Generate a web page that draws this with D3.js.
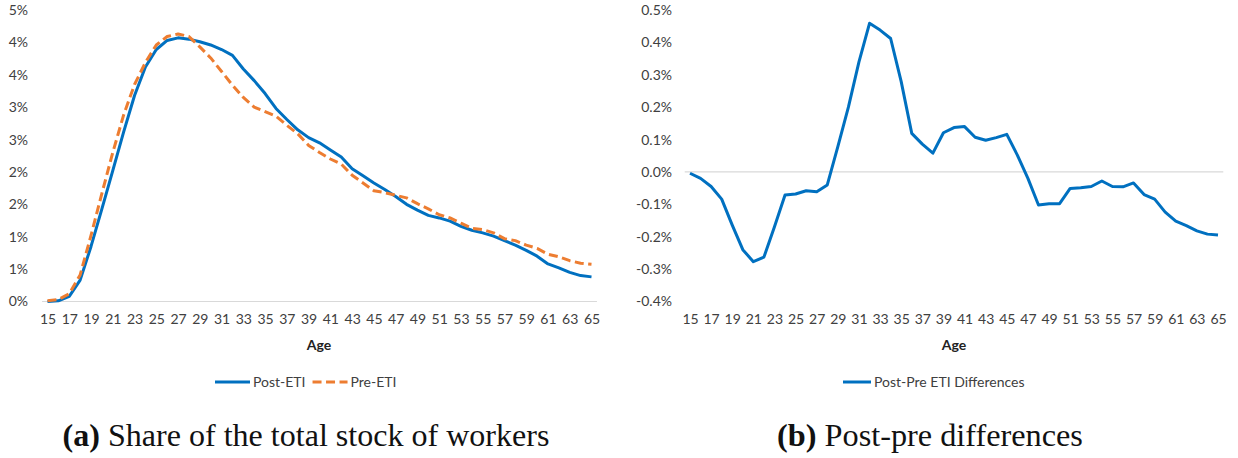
<!DOCTYPE html>
<html>
<head>
<meta charset="utf-8">
<script src="https://cdn.jsdelivr.net/npm/d3@7"></script>
<style>
  html, body { margin: 0; padding: 0; background: #ffffff; }
  svg { display: block; }
  .tick text { font-family: Lato, "Open Sans", sans-serif; font-size: 14px; fill: #404040; }
</style>
</head>
<body>
<svg id="chart" width="1238" height="458"></svg>
<script>
// Ages 15..65
const ages = d3.range(15, 66);
const ageTicks = d3.range(15, 66, 2);

// Share of the total stock of workers by age (%)
const postETI = [
  0.00, 0.01, 0.08, 0.33, 0.85, 1.43, 2.02, 2.62, 3.18, 3.62,
  3.89, 4.03, 4.07, 4.05, 4.01, 3.96, 3.89, 3.80, 3.59, 3.41,
  3.21, 2.98, 2.81, 2.65, 2.53, 2.45, 2.34, 2.23, 2.05, 1.94,
  1.83, 1.73, 1.62, 1.50, 1.41, 1.33, 1.29, 1.24, 1.16, 1.10,
  1.06, 1.01, 0.94, 0.87, 0.79, 0.70, 0.58, 0.52, 0.45, 0.40,
  0.38
];
const preETI = [
  0.01, 0.03, 0.12, 0.41, 1.02, 1.67, 2.30, 2.88, 3.35, 3.69,
  3.96, 4.09, 4.13, 4.09, 3.93, 3.76, 3.55, 3.34, 3.15, 3.00,
  2.93, 2.86, 2.72, 2.59, 2.41, 2.30, 2.20, 2.12, 1.95, 1.83,
  1.71, 1.68, 1.64, 1.60, 1.51, 1.43, 1.34, 1.29, 1.21, 1.13,
  1.11, 1.06, 0.97, 0.94, 0.87, 0.82, 0.73, 0.69, 0.63, 0.59,
  0.575
];
// Post minus pre (%)
const diffETI = [
  -0.004, -0.020, -0.045, -0.084, -0.164, -0.240, -0.277, -0.263, -0.169, -0.071,
  -0.068, -0.058, -0.061, -0.040, 0.078, 0.200, 0.340, 0.459, 0.438, 0.412,
  0.279, 0.119, 0.086, 0.058, 0.121, 0.137, 0.140, 0.107, 0.098, 0.106,
  0.116, 0.052, -0.020, -0.102, -0.098, -0.098, -0.051, -0.049, -0.045, -0.028,
  -0.045, -0.046, -0.034, -0.070, -0.084, -0.124, -0.152, -0.166, -0.182, -0.192,
  -0.195
];

// Value-axis ticks and their labels (labels rounded to whole/one-decimal percent)
const shareTicks = [0, 0.5, 1, 1.5, 2, 2.5, 3, 3.5, 4, 4.5];
const shareTickLabels = ["0%", "1%", "1%", "2%", "2%", "3%", "3%", "4%", "4%", "5%"];
const diffTicks = [-0.4, -0.3, -0.2, -0.1, 0, 0.1, 0.2, 0.3, 0.4, 0.5];
const diffTickLabels = ["-0.4%", "-0.3%", "-0.2%", "-0.1%", "0.0%", "0.1%", "0.2%", "0.3%", "0.4%", "0.5%"];

const seriesA = [
  { name: "Post-ETI", values: postETI, color: "#0070C0", dash: null },
  { name: "Pre-ETI", values: preETI, color: "#ED7D31", dash: "9,4.5" }
];
const seriesB = [
  { name: "Post-Pre ETI Differences", values: diffETI, color: "#0070C0", dash: null }
];

const captionA = { label: "(a)", text: " Share of the total stock of workers" };
const captionB = { label: "(b)", text: " Post-pre differences" };

const svg = d3.select("#chart");
const FONT = "Lato, 'Open Sans', sans-serif";

function drawPanel(opts) {
  const g = svg.append("g");
  const step = (opts.xRange[1] - opts.xRange[0]) / (ages.length - 1);
  const x = d3.scaleLinear().domain([ages[0], ages[ages.length - 1]]).range(opts.xRange);
  const y = d3.scaleLinear().domain(opts.yDomain).range(opts.yRange);

  // zero baseline
  g.append("line")
    .attr("x1", opts.xRange[0] - step / 2).attr("x2", opts.xRange[1] + step / 2)
    .attr("y1", y(0)).attr("y2", y(0))
    .attr("stroke", "#D9D9D9").attr("stroke-width", 1.2);

  // value axis
  const yAxis = d3.axisLeft(y)
    .tickValues(opts.yTicks)
    .tickSize(0)
    .tickPadding(0)
    .tickFormat((d, i) => opts.yLabels[i]);
  g.append("g")
    .attr("transform", `translate(${opts.yLabelRight},0)`)
    .call(yAxis)
    .call(s => s.select(".domain").remove());

  // category axis
  const xAxis = d3.axisBottom(x)
    .tickValues(ageTicks)
    .tickSize(0)
    .tickPadding(0)
    .tickFormat(d3.format("d"));
  g.append("g")
    .attr("transform", `translate(0,${opts.xLabelTop})`)
    .call(xAxis)
    .call(s => s.select(".domain").remove());

  // axis title
  g.append("text")
    .attr("x", opts.titleX).attr("y", 350)
    .attr("text-anchor", "middle")
    .attr("font-family", FONT).attr("font-size", 14).attr("font-weight", 700)
    .attr("fill", "#222")
    .text("Age");

  // series lines
  const line = d3.line().x((d, i) => x(ages[i])).y(d => y(d));
  opts.series.forEach(s => {
    g.append("path")
      .datum(s.values)
      .attr("d", line)
      .attr("fill", "none")
      .attr("stroke", s.color)
      .attr("stroke-width", 3)
      .attr("stroke-linejoin", "round")
      .attr("stroke-dasharray", s.dash);
  });

  // legend
  let lx = opts.legendX;
  opts.series.forEach((s, i) => {
    if (i > 0) lx += 7;
    g.append("line")
      .attr("x1", lx).attr("x2", lx + opts.legendLine)
      .attr("y1", 382).attr("y2", 382)
      .attr("stroke", s.color).attr("stroke-width", 3)
      .attr("stroke-dasharray", s.dash);
    const t = g.append("text")
      .attr("x", lx + opts.legendLine + 3).attr("y", 387)
      .attr("font-family", FONT).attr("font-size", 14)
      .attr("fill", "#404040")
      .text(s.name);
    lx += opts.legendLine + 3 + t.node().getComputedTextLength();
  });

  // caption below the panel
  const cap = svg.append("text")
    .attr("y", 446)
    .attr("font-family", "'Liberation Serif', 'DejaVu Serif', serif")
    .attr("font-size", 24)
    .attr("fill", "#111");
  cap.append("tspan").attr("font-weight", 700).text(opts.caption.label);
  cap.append("tspan").text(opts.caption.text);
  const w = cap.node().getComputedTextLength();
  const fs = 24 * opts.captionWidth / w;
  cap.attr("font-size", fs);
  const w2 = cap.node().getComputedTextLength();
  cap.attr("x", opts.captionCenter - w2 / 2);
}

drawPanel({
  xRange: [47.5, 591.5],
  yDomain: [0, 4.5],
  yRange: [301.5, 10],
  yTicks: shareTicks,
  yLabels: shareTickLabels,
  yLabelRight: 28,
  xLabelTop: 314,
  titleX: 319,
  series: seriesA,
  legendX: 215,
  legendLine: 35,
  caption: captionA,
  captionWidth: 487,
  captionCenter: 306
});

drawPanel({
  xRange: [690, 1218],
  yDomain: [-0.4, 0.5],
  yRange: [301.5, 10],
  yTicks: diffTicks,
  yLabels: diffTickLabels,
  yLabelRight: 672,
  xLabelTop: 314,
  titleX: 954,
  series: seriesB,
  legendX: 843,
  legendLine: 28,
  caption: captionB,
  captionWidth: 306,
  captionCenter: 930
});
</script>
</body>
</html>
